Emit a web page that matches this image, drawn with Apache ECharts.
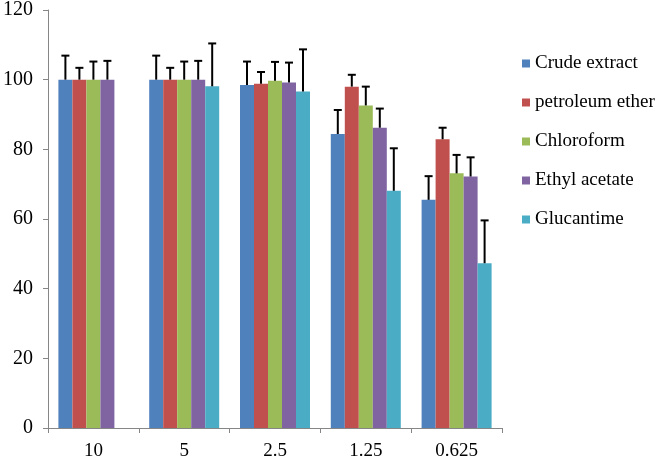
<!DOCTYPE html>
<html><head><meta charset="utf-8">
<script src="https://cdn.jsdelivr.net/npm/echarts@6/dist/echarts.min.js"></script>
<style>html,body{margin:0;padding:0;background:#fff}#c{width:660px;height:462px}</style>
</head><body><div id="c"></div>
<script>
const categories = ['10', '5', '2.5', '1.25', '0.625'];
const seriesNames = ['Crude extract', 'petroleum ether', 'Chloroform', 'Ethyl acetate', 'Glucantime'];
const crude = [100, 100, 98.5, 84.4, 65.5];
const petroleum = [100, 100, 98.8, 98.0, 82.9];
const chloroform = [100, 100, 99.7, 92.6, 73.1];
const ethyl = [100, 100, 99.2, 86.2, 72.2];
const glucantime = [null, 98.1, 96.6, 68.1, 47.3];
const crudeErr = [6.9, 6.9, 6.7, 6.9, 6.8];
const petroleumErr = [3.4, 3.4, 3.4, 3.4, 3.3];
const chloroformErr = [5.2, 5.2, 5.4, 5.4, 5.3];
const ethylErr = [5.4, 5.4, 5.7, 5.5, 5.5];
const glucantimeErr = [null, 12.3, 12.1, 12.2, 12.3];
const yTicks = [0, 20, 40, 60, 80, 100, 120];

const values = [crude, petroleum, chloroform, ethyl, glucantime];
const errors = [crudeErr, petroleumErr, chloroformErr, ethylErr, glucantimeErr];
const colors = ['#4F81BD', '#C0504D', '#9BBB59', '#8064A2', '#4BACC6'];
const BAR_W = 14;

const series = [];
values.forEach((v, i) => {
  series.push({
    name: seriesNames[i], type: 'bar', data: v, barWidth: BAR_W, barGap: '0%',
    itemStyle: { color: colors[i] }, z: 2
  });
});
values.forEach((v, i) => {
  const data = v.map((val, k) => val == null ? null : [k, val, val + errors[i][k]]).filter(d => d);
  series.push({
    name: 'err' + i, type: 'custom', z: 5,
    encode: { x: 0, y: [1, 2] },
    data: data,
    renderItem: function (params, api) {
      const k = api.value(0);
      const base = api.coord([k, api.value(1)]);
      const top = api.coord([k, api.value(2)]);
      const x = base[0] + (i - 2) * BAR_W;
      return {
        type: 'group',
        children: [
          { type: 'line', shape: { x1: x, y1: base[1], x2: x, y2: top[1] }, style: { stroke: '#000', lineWidth: 2 } },
          { type: 'line', shape: { x1: x - 4, y1: top[1], x2: x + 4, y2: top[1] }, style: { stroke: '#000', lineWidth: 2 } }
        ]
      };
    }
  });
});

const chart = echarts.init(document.getElementById('c'), null, { renderer: 'canvas' });
chart.setOption({
  animation: false,
  backgroundColor: '#fff',
  grid: { left: 46, right: 158, top: 9, bottom: 34 },
  legend: {
    data: seriesNames, orient: 'vertical', left: 517, top: 49,
    itemWidth: 8, itemHeight: 8, itemGap: 20, icon: 'rect',
    textStyle: { fontFamily: 'Liberation Serif', fontSize: 19, color: '#000', lineHeight: 19 }
  },
  xAxis: {
    type: 'category', data: categories,
    axisLine: { lineStyle: { color: '#868686', width: 1 } },
    axisTick: { show: true, alignWithLabel: false, length: 5, lineStyle: { color: '#868686' } },
    axisLabel: { fontFamily: 'Liberation Serif', fontSize: 19, color: '#000', margin: 14 }
  },
  yAxis: {
    type: 'value', min: yTicks[0], max: yTicks[yTicks.length - 1], interval: 20,
    axisLine: { show: true, lineStyle: { color: '#868686', width: 1 } },
    axisTick: { show: true, length: 5, lineStyle: { color: '#868686' } },
    splitLine: { show: false },
    axisLabel: { fontFamily: 'Liberation Serif', fontSize: 20, color: '#000', margin: 15 }
  },
  series: series
});
</script></body></html>
